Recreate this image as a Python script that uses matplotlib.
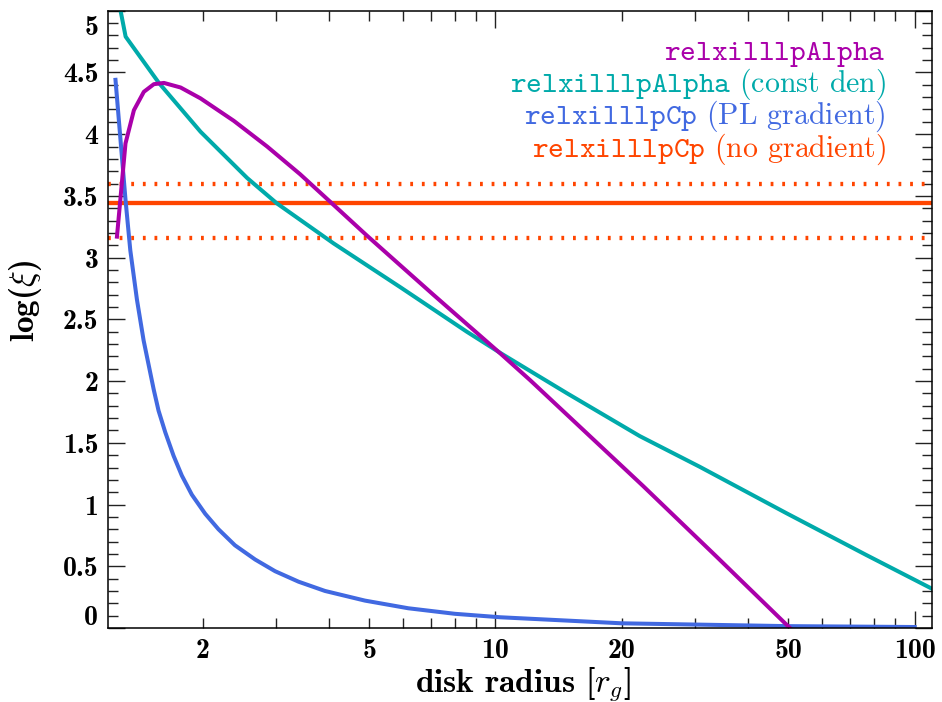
import numpy as np
import matplotlib
matplotlib.use('Agg')
import matplotlib.pyplot as plt
from matplotlib.ticker import LogLocator, MultipleLocator, FuncFormatter
from matplotlib.transforms import ScaledTranslation

plt.rcParams['mathtext.fontset'] = 'cm'
plt.rcParams['axes.unicode_minus'] = False

# relxilllpAlpha (density gradient)
r_alpha = [1.25, 1.31, 1.372, 1.449, 1.531, 1.618, 1.773, 1.978, 2.375, 2.852, 3.42,
           4.04, 4.94, 5.93, 7.11, 8.54, 10.3, 12.09, 22.5, 33.7, 50.4]
xi_alpha = [3.17, 3.925, 4.194, 4.343, 4.405, 4.415, 4.378, 4.29, 4.108, 3.90, 3.675,
            3.45, 3.177, 2.937, 2.699, 2.462, 2.22, 2.008, 1.15, 0.577, 0.0]

# relxilllpAlpha (const den)
r_const = [1.24, 1.311, 1.574, 1.978, 2.556, 3.01, 4.11, 5.93, 8.54, 10.3, 14.8,
           22.1, 30.7, 49.5, 76.7, 120.0]
xi_const = [5.21, 4.79, 4.415, 4.02, 3.645, 3.439, 3.115, 2.76, 2.40, 2.225, 1.902,
            1.554, 1.306, 0.929, 0.591, 0.252]

# relxilllpCp (PL gradient)
r_pl = [1.24, 1.31, 1.345, 1.395, 1.447, 1.53, 1.571, 1.63, 1.706, 1.785, 1.886,
        2.03, 2.183, 2.39, 2.67, 2.98, 3.39, 3.92, 4.88, 6.19, 8.0, 10.26, 20.0,
        50.0, 100.0]
xi_pl = [4.44, 3.47, 3.06, 2.66, 2.33, 1.93, 1.76, 1.585, 1.395, 1.235, 1.08,
         0.925, 0.80, 0.67, 0.555, 0.46, 0.375, 0.30, 0.222, 0.16, 0.115, 0.087,
         0.038, 0.015, 0.008]

# relxilllpCp (no gradient): best fit and error range
xi_nograd = 3.44
xi_nograd_hi = 3.60
xi_nograd_lo = 3.16

x_labelled = [2, 5, 10, 20, 50, 100]

c_alpha = '#aa00aa'
c_const = '#00aaaa'
c_pl = '#4169e1'
c_nograd = '#ff4500'

names = [r'$\mathtt{relxilllpAlpha}$',
         r'$\mathtt{relxilllpAlpha}$ (const den)',
         r'$\mathtt{relxilllpCp}$ (PL gradient)',
         r'$\mathtt{relxilllpCp}$ (no gradient)']
colors = [c_alpha, c_const, c_pl, c_nograd]

fig = plt.figure(figsize=(9.42, 7.02), dpi=100)
ax = fig.add_axes([108/942, 1 - 628/702, 824/942, 617.3/702])

dots = (0, (0.65, 2.05))
ax.axhline(xi_nograd, color=c_nograd, lw=3.1)
ax.axhline(xi_nograd_hi, color=c_nograd, lw=3.1, ls=dots)
ax.axhline(xi_nograd_lo, color=c_nograd, lw=3.1, ls=dots)
ax.plot(r_pl, xi_pl, color=c_pl, lw=2.9, solid_joinstyle='round')
ax.plot(r_const, xi_const, color=c_const, lw=2.9, solid_joinstyle='round')
ax.plot(r_alpha, xi_alpha, color=c_alpha, lw=2.9, solid_joinstyle='round')

ax.set_xscale('log')
ax.set_xlim(1.19, 110)
ax.set_ylim(0, 5)

def xfmt(v, pos):
    if any(np.isclose(v, t) for t in x_labelled):
        return f'{v:g}'
    return ''

ax.xaxis.set_major_locator(LogLocator(base=10, numticks=10))
ax.xaxis.set_minor_locator(LogLocator(base=10, subs=np.arange(2, 10), numticks=30))
ax.xaxis.set_major_formatter(FuncFormatter(xfmt))
ax.xaxis.set_minor_formatter(FuncFormatter(xfmt))
ax.yaxis.set_major_locator(MultipleLocator(0.5))
ax.yaxis.set_minor_locator(MultipleLocator(0.1))
ax.yaxis.set_major_formatter(FuncFormatter(lambda v, p: f'{v:g}'))

ax.tick_params(which='both', direction='in', top=True, right=True, width=1.0,
               labelsize=20, labelfontfamily='cmb10', pad=7, color='#222222')
ax.tick_params(which='major', length=12.5)
ax.tick_params(which='minor', length=7.5)
for s in ax.spines.values():
    s.set_linewidth(1.1)

ax.set_xlabel(r'disk radius [$r_g$]', fontfamily='cmb10', fontsize=24)
ax.xaxis.label.set_va('center')
ax.xaxis.set_label_coords(0.504, -0.09)
ax.set_ylabel(r'log($\xi$)', fontfamily='cmb10', fontsize=24)
ax.yaxis.label.set_va('center')
ax.yaxis.set_label_coords(-0.1, 0.53)

for i, (txt, col) in enumerate(zip(names, colors)):
    ax.text(0.944, 0.920 - 0.052 * i, txt, color=col, transform=ax.transAxes,
            ha='right', va='baseline', fontfamily='cmr10', fontsize=21.5)

fig.canvas.draw()
for tick in ax.yaxis.get_major_ticks():
    loc = tick.get_loc()
    if np.isclose(loc, 0):
        tick.label1.set_transform(tick.label1.get_transform()
                                  + ScaledTranslation(0, 0.13, fig.dpi_scale_trans))
    elif np.isclose(loc, 5):
        tick.label1.set_transform(tick.label1.get_transform()
                                  + ScaledTranslation(0, -0.14, fig.dpi_scale_trans))

fig.savefig('out.png', dpi=100)
